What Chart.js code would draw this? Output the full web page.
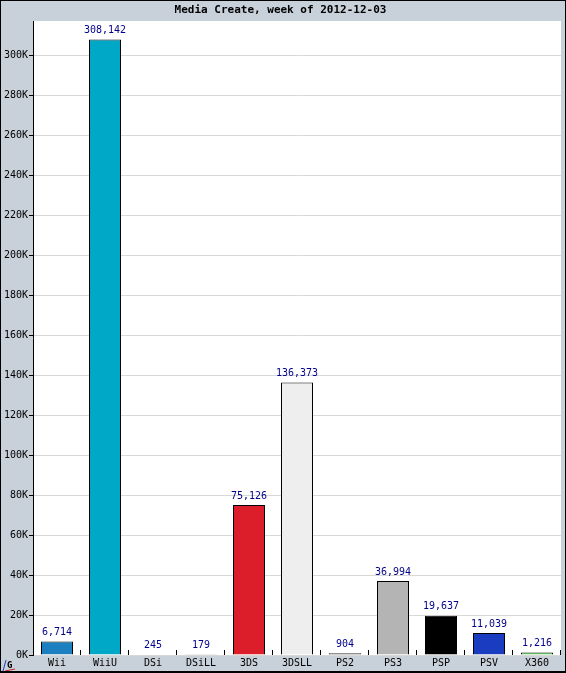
<!DOCTYPE html>
<html>
<head>
<meta charset="utf-8">
<script src="https://cdn.jsdelivr.net/npm/chart.js@4/dist/chart.umd.min.js"></script>
<style>
  html, body { margin: 0; padding: 0; background: #c8d0da; }
  #wrap { width: 566px; height: 673px; position: relative; }
</style>
</head>
<body>
<div id="wrap"><canvas id="c" width="566" height="673"></canvas></div>
<script>
// Weekly hardware sales
const titleText = 'Media Create, week of 2012-12-03';
const platforms = ['Wii', 'WiiU', 'DSi', 'DSiLL', '3DS', '3DSLL', 'PS2', 'PS3', 'PSP', 'PSV', 'X360'];
const unitsSold = [6714, 308142, 245, 179, 75126, 136373, 904, 36994, 19637, 11039, 1216];
const barColors = ['#1c80c0', '#00a8c8', '#d8d8d8', '#c0c0c0', '#dc1e2a', '#eeeeee', '#505050', '#b4b4b4', '#000000', '#1a3cc0', '#44e044'];
const yMax = 317400;
const yStep = 20000;

const MONO = "'DejaVu Sans Mono', 'Liberation Mono', monospace";

const framePlugin = {
  id: 'frame',
  beforeDraw(chart) {
    const { ctx, chartArea: a, width, height } = chart;
    ctx.save();
    ctx.fillStyle = '#c8d0da';
    ctx.fillRect(0, 0, width, height);
    ctx.fillStyle = '#ffffff';
    ctx.fillRect(a.left, a.top, a.right - a.left, a.bottom - a.top);
    ctx.restore();
  },
  afterDraw(chart) {
    const { ctx, width, height, scales } = chart;
    const x = scales.x;
    ctx.save();
    // category boundary ticks along the base, pointing into the plot
    ctx.strokeStyle = '#000000';
    ctx.lineWidth = 1;
    const half = (x.getPixelForValue(1) - x.getPixelForValue(0)) / 2;
    for (let i = 1; i <= platforms.length; i++) {
      const px = Math.round(x.getPixelForValue(i) - half) - 0.5;
      ctx.beginPath();
      ctx.moveTo(px, x.top);
      ctx.lineTo(px, x.top - 5);
      ctx.stroke();
    }
    // value labels over each bar
    const meta = chart.getDatasetMeta(0);
    ctx.fillStyle = '#00008b';
    ctx.font = '10px ' + MONO;
    ctx.textAlign = 'center';
    ctx.textBaseline = 'bottom';
    meta.data.forEach((bar, i) => {
      ctx.fillText(unitsSold[i].toLocaleString('en-US'), bar.x, bar.y - 4);
    });
    // small logo mark in the corner
    ctx.fillStyle = '#000000';
    ctx.font = 'bold 9px ' + MONO;
    ctx.textAlign = 'left';
    ctx.textBaseline = 'alphabetic';
    ctx.fillText('G', 7, 668);
    ctx.strokeStyle = '#2040c0';
    ctx.beginPath();
    ctx.moveTo(3, 671); ctx.lineTo(6, 660);
    ctx.stroke();
    ctx.strokeStyle = '#d02020';
    ctx.beginPath();
    ctx.moveTo(5, 671); ctx.lineTo(15, 669);
    ctx.stroke();
    // outer border
    ctx.fillStyle = '#000000';
    ctx.fillRect(0, 0, width, 1);
    ctx.fillRect(0, 0, 1, height);
    ctx.fillRect(width - 1, 0, 1, height);
    ctx.fillRect(0, height - 2, width, 2);
    ctx.restore();
  }
};

new Chart(document.getElementById('c'), {
  type: 'bar',
  data: {
    labels: platforms,
    datasets: [{
      data: unitsSold,
      backgroundColor: barColors,
      borderColor: '#000000',
      borderWidth: 1,
      borderSkipped: 'start',
      barPercentage: 2 / 3,
      categoryPercentage: 1.0
    }]
  },
  options: {
    responsive: false,
    animation: false,
    devicePixelRatio: 1,
    layout: { padding: { left: 0, right: 5, top: 0, bottom: 0 } },
    plugins: {
      legend: { display: false },
      tooltip: { enabled: false },
      title: {
        display: true,
        text: titleText,
        color: '#000000',
        font: { family: MONO, size: 11, weight: 'bold', lineHeight: 1.2 },
        padding: { top: 4, bottom: 3.8 }
      }
    },
    scales: {
      x: {
        grid: { display: false, drawTicks: false, tickLength: 0 },
        border: { display: false },
        ticks: {
          color: '#000000',
          font: { family: MONO, size: 10 },
          padding: 2,
          maxRotation: 0,
          autoSkip: false
        },
        afterFit(scale) { scale.height = 18; }
      },
      y: {
        min: 0,
        max: yMax,
        grid: {
          color: '#d8d8d8',
          tickColor: '#000000',
          tickLength: 4,
          lineWidth: 1
        },
        border: { display: true, color: '#000000', width: 1 },
        ticks: {
          color: '#000000',
          font: { family: MONO, size: 10 },
          padding: 1,
          autoSkip: false,
          callback: v => (v / 1000) + 'K'
        },
        afterBuildTicks(scale) {
          const list = [];
          for (let v = 0; v <= yMax; v += yStep) list.push({ value: v });
          scale.ticks = list;
        },
        afterFit(scale) { scale.width = 33; }
      }
    }
  },
  plugins: [framePlugin]
});
</script>
</body>
</html>
